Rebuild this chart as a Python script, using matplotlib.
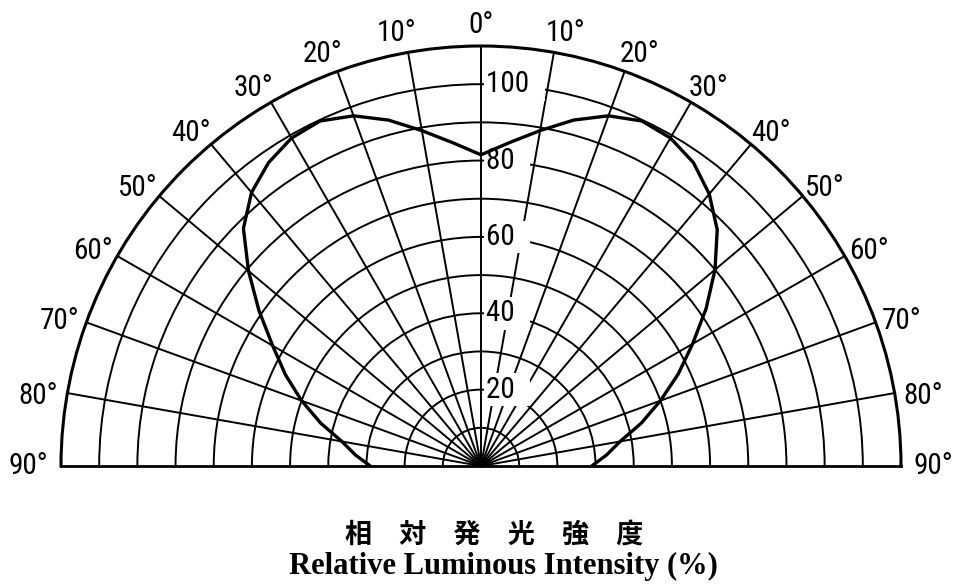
import numpy as np
import matplotlib
matplotlib.use("Agg")
import matplotlib.pyplot as plt

# relative luminous intensity (%) vs. angle off axis (deg)
angle_deg = [-90, -85, -80, -75, -70, -65, -60, -55, -50, -45, -40, -35, -30,
             -25, -20, -15, -10, -5, 0, 5, 10, 15, 20, 25, 30, 35, 40, 45,
             50, 55, 60, 65, 70, 75, 80, 85, 90]
intensity = [29, 33, 37, 43.5, 50, 56.5, 63, 71, 79.5, 88, 93.5, 97, 99.2,
             99.7, 97.6, 93.8, 89.2, 85, 81.5, 85, 89.2, 93.8, 97.6, 99.7, 99.2,
             97, 93, 87.5, 80, 72, 64, 57, 50, 43.5, 37, 33, 29]

theta_ticks = list(range(-90, 91, 10))
r_ticks = list(range(10, 110, 10))
r_labels = [20, 40, 60, 80, 100]
r_max = 110

label_font = ["Roboto Condensed", "DejaVu Sans"]

W, H = 954, 586
fig = plt.figure(figsize=(W / 100, H / 100), dpi=100)

# centre of the half circle and its radius in pixels (top-left origin)
cx, cy, R = 481, 466, 420
side = 2 * R
ax = fig.add_axes([(cx - R) / W, (H - cy - side / 4) / H, side / W, side / H],
                  projection="polar")
ax.set_theta_zero_location("N")
ax.set_theta_direction(-1)
ax.set_thetamin(-90)
ax.set_thetamax(90)
ax.set_rlim(0, r_max)

ax.set_xticks(np.deg2rad(theta_ticks[1:-1]))
ax.set_xticklabels([])
ax.set_yticks(r_ticks)
ax.set_yticklabels([])
ax.tick_params(length=0)
ax.grid(True, color="black", lw=1.4)
ax.spines["polar"].set_linewidth(2.2)
ax.spines["start"].set_linewidth(2.0)
ax.spines["end"].set_linewidth(2.0)
ax.spines["inner"].set_visible(False)

ax.plot(np.deg2rad(angle_deg), intensity, color="black", lw=2.4, zorder=4)

# radial scale along the 0 deg spoke (white box breaks the grid behind it)
for v in r_labels:
    ax.annotate(f"{v}  ", xy=(0, v), xytext=(3.5, 0), textcoords="offset points",
                ha="left", va="center", fontsize=21, family=label_font,
                fontstretch="condensed",
                bbox=dict(boxstyle="square,pad=0.08", fc="white", ec="none"),
                zorder=3)

# angle labels round the rim
for a in theta_ticks:
    off = 0 if abs(a) in (0, 90) else np.sign(a) * 1.0
    r_lab = 115.5 + 3.0 * (abs(a) / 90) ** 4
    ax.text(np.deg2rad(a + off), r_lab, f"{abs(a)}°", ha="center", va="center",
            fontsize=21, family=label_font, fontstretch="condensed")

fig.text(494 / W, 1 - 535 / H, "相\u3000対\u3000発\u3000光\u3000強\u3000度",
         ha="center", va="center", fontsize=19.5, weight="bold",
         family=["Noto Sans CJK JP", "DejaVu Sans"])
fig.text(503 / W, 1 - 566 / H, "Relative Luminous Intensity (%)",
         ha="center", va="center", fontsize=22, weight="bold",
         family=["Liberation Serif", "DejaVu Serif"])

fig.savefig("out.png", dpi=100)
